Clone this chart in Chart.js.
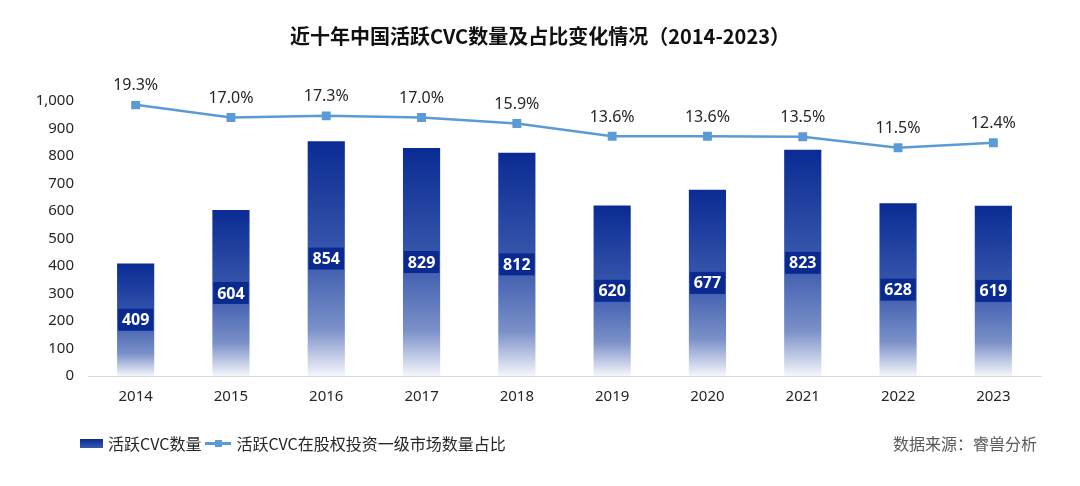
<!DOCTYPE html>
<html>
<head>
<meta charset="utf-8">
<script src="https://cdn.jsdelivr.net/npm/chart.js@4.4.1/dist/chart.umd.min.js"></script>
<style>
    html, body { margin: 0; padding: 0; background: #fff; }
    body { width: 1080px; height: 486px; position: relative; overflow: hidden;
           font-family: "Noto Sans", "Noto Sans CJK SC", sans-serif; }
    #wrap { position: absolute; left: 0; top: 0; width: 1080px; height: 486px; }
    #title { position: absolute; top: 21px; left: 0; width: 1080px; text-align: center;
             font-family: "Noto Sans CJK SC", sans-serif; font-weight: bold; font-size: 20px; color: #111; }
    .legend { position: absolute; top: 431px; left: 80px; font-size: 16px; color: #262626;
              font-family: "Noto Sans CJK SC", sans-serif; display: flex; align-items: center; }
    .sw-bar { width: 23px; height: 9px; background: linear-gradient(#0a2b94, #3a59ad); margin-right: 5px; }
    .sw-line { position: relative; width: 26px; height: 3px; background: #5b9bd5; margin: 0 5px 0 4px; }
    .sw-line i { position: absolute; left: 10px; top: -2px; width: 7px; height: 7px; background: #5b9bd5; }
    #source { position: absolute; top: 431px; right: 43px; font-size: 16px; color: #595959;
              font-family: "Noto Sans CJK SC", sans-serif; }
</style>
</head>
<body>
<div id="wrap"><canvas id="cvcChart" width="1080" height="486"></canvas></div>
<div id="title">近十年中国活跃CVC数量及占比变化情况（2014-2023）</div>
<div class="legend">
    <span class="sw-bar"></span><span>活跃CVC数量</span>
    <span class="sw-line"><i></i></span><span>活跃CVC在股权投资一级市场数量占比</span>
</div>
<div id="source">数据来源：睿兽分析</div>

<script>
const years = ['2014', '2015', '2016', '2017', '2018', '2019', '2020', '2021', '2022', '2023'];
const cvcCounts = [409, 604, 854, 829, 812, 620, 677, 823, 628, 619];
const cvcShare = [19.3, 17.0, 17.3, 17.0, 15.9, 13.6, 13.6, 13.5, 11.5, 12.4];
const yTicks = [0, 100, 200, 300, 400, 500, 600, 700, 800, 900, 1000];

const FONT = '"Noto Sans", "Noto Sans CJK SC", sans-serif';

/* ===== per-bar gradient, dark top -> white bottom ===== */
function barGradient(context) {
    const chart = context.chart;
    const { ctx, chartArea, scales } = chart;
    if (!chartArea) return '#0a2b94';
    const v = context.raw;
    const top = scales.y.getPixelForValue(v);
    const bottom = scales.y.getPixelForValue(0);
    const g = ctx.createLinearGradient(0, top, 0, bottom);
    g.addColorStop(0, '#0a2b94');
    g.addColorStop(0.5, '#3a59ad');
    g.addColorStop(0.8, '#7a90c8');
    g.addColorStop(1, '#f4f6fb');
    return g;
}

/* ===== labels: box inside bars, percent above points ===== */
const labelPlugin = {
    id: 'labelPlugin',
    afterDatasetsDraw(chart) {
        const ctx = chart.ctx;
        ctx.save();

        const barMeta = chart.getDatasetMeta(0);
        ctx.font = 'bold 16px ' + FONT;
        ctx.textAlign = 'center';
        ctx.textBaseline = 'middle';
        barMeta.data.forEach((bar, i) => {
            const mid = (bar.y + bar.base) / 2;
            const txt = String(cvcCounts[i]);
            const w = ctx.measureText(txt).width + 8;
            ctx.fillStyle = '#0a2a92';
            ctx.fillRect(bar.x - w / 2, mid - 11, w, 22);
            ctx.fillStyle = '#ffffff';
            ctx.fillText(txt, bar.x, mid + 1);
        });

        const lineMeta = chart.getDatasetMeta(1);
        ctx.font = '16px ' + FONT;
        ctx.fillStyle = '#262626';
        lineMeta.data.forEach((pt, i) => {
            ctx.fillText(cvcShare[i].toFixed(1) + '%', pt.x, pt.y - 19);
        });

        ctx.restore();
    }
};

new Chart(document.getElementById('cvcChart'), {
    data: {
        labels: years,
        datasets: [
            {
                type: 'bar',
                label: '活跃CVC数量',
                data: cvcCounts,
                yAxisID: 'y',
                backgroundColor: barGradient,
                categoryPercentage: 1,
                barPercentage: 0.39,
                order: 2
            },
            {
                type: 'line',
                label: '活跃CVC在股权投资一级市场数量占比',
                data: cvcShare,
                yAxisID: 'y2',
                borderColor: '#5b9bd5',
                backgroundColor: '#5b9bd5',
                borderWidth: 2.5,
                pointStyle: 'rect',
                pointRadius: 4.5,
                tension: 0,
                order: 1
            }
        ]
    },
    options: {
        responsive: false,
        animation: false,
        layout: { padding: { top: 101, right: 39, bottom: 80, left: 0 } },
        plugins: {
            legend: { display: false },
            title: { display: false },
            tooltip: { enabled: false }
        },
        scales: {
            x: {
                grid: { display: false },
                border: { color: '#d9d9d9', width: 1 },
                ticks: { color: '#262626', font: { size: 15, family: FONT }, padding: 4 },
                afterFit(scale) { scale.height = 30; }
            },
            y: {
                min: 0,
                max: 1000,
                afterBuildTicks(scale) { scale.ticks = yTicks.map(v => ({ value: v })); },
                grid: { display: false },
                border: { display: false },
                ticks: {
                    color: '#262626',
                    font: { size: 15, family: FONT },
                    padding: 6,
                    callback: v => v.toLocaleString('en-US')
                },
                afterFit(scale) { scale.width = 88; }
            },
            y2: {
                display: false,
                min: -30,
                max: 20
            }
        }
    },
    plugins: [labelPlugin]
});
</script>
</body>
</html>
